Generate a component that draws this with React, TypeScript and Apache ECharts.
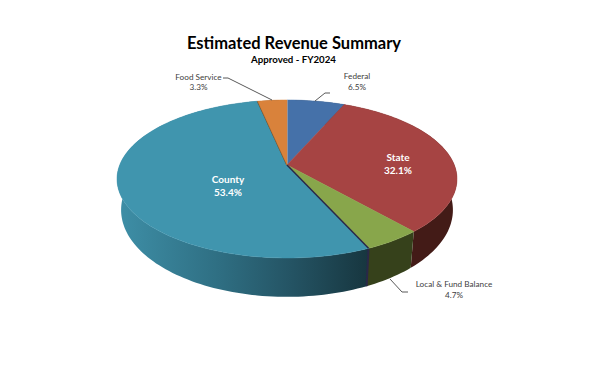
import React, { useEffect, useRef } from "react";
import * as echarts from "echarts";

const categories = ["Federal", "State", "Local & Fund Balance", "County", "Food Service"];
const shares = [6.5, 32.1, 4.7, 53.4, 3.3];
const titleText = "Estimated Revenue Summary";
const subtitleText = "Approved - FY2024";

const topColors = ["#4571a9", "#a64443", "#88a64b", "#4095ae", "#d9823b"];
const FONT = "Lato, 'Open Sans', sans-serif";

// Perspective projection of the pie disc
const CX = 287, CY = 165, K = 0.177, A = 167.3, B = 76.5;
const LOW_X = 0.976, LOW_Y0 = 194.6, LOW_Y = 1.1;
const total = shares.reduce((a, b) => a + b, 0);

const rim = (deg: number): [number, number] => {
  const t = (deg * Math.PI) / 180;
  const w = 1 + K * Math.cos(t);
  return [CX + (A * Math.sin(t)) / w, CY - (B * Math.cos(t)) / w];
};
const lowRim = (deg: number): [number, number] => {
  const [x, y] = rim(deg);
  return [CX + (x - CX) * LOW_X, LOW_Y0 + LOW_Y * (y - CY)];
};
const samples = (a: number, b: number) => {
  const n = Math.max(2, Math.ceil((b - a) / 1.5));
  const out: number[] = [];
  for (let i = 0; i <= n; i++) out.push(a + ((b - a) * i) / n);
  return out;
};

let running = 0;
const rows = shares.map((v) => {
  const start = (running / total) * 360;
  running += v;
  return [v, start, (running / total) * 360];
});

const sideFill = (i: number) => {
  if (i === 3) {
    return new echarts.graphic.LinearGradient(1, 0, 0, 0, [
      { offset: 0, color: "#17363f" },
      { offset: 0.3, color: "#245363" },
      { offset: 0.6, color: "#2f6f83" },
      { offset: 1, color: "#3e8fa7" },
    ]);
  }
  return ["#27405f", "#431b17", "#36411b", "#17363f", "#7d4a20"][i];
};

const sideItem = (params: any, api: any) => {
  const a = api.value(1), b = api.value(2);
  const angles = samples(a, b);
  const pts = [...angles.map(rim), ...angles.slice().reverse().map(lowRim)];
  const children: any[] = [
    { type: "polygon", shape: { points: pts }, style: { fill: sideFill(params.dataIndex), stroke: null } },
  ];
  if (params.dataIndex === 3) {
    const p = rim(a), q = lowRim(a);
    children.push({
      type: "line",
      shape: { x1: p[0], y1: p[1], x2: q[0], y2: q[1] },
      style: { stroke: "#2a2848", lineWidth: 2 },
    });
  }
  return { type: "group", children };
};

const topItem = (params: any, api: any) => {
  const a = api.value(1), b = api.value(2);
  const pts = [[CX, CY], ...samples(a, b).map(rim)];
  const color = topColors[params.dataIndex];
  const children: any[] = [
    { type: "polygon", shape: { points: pts }, style: { fill: color, stroke: color, lineWidth: 0.5 } },
  ];
  const edge = (deg: number, stroke: string, lineWidth: number) => {
    const p = rim(deg);
    children.push({
      type: "line",
      shape: { x1: CX, y1: CY, x2: p[0], y2: p[1] },
      style: { stroke, lineWidth },
    });
  };
  if (params.dataIndex === 3) {
    edge(a, "#2a2848", 1.5);
    edge(b, "#5f4a2e", 1.5);
  }
  if (params.dataIndex === 0) edge(a, "#b9c6d6", 1);
  return { type: "group", children };
};

const label = (i: number, x: number, y1: number, y2: number, bold: boolean) => {
  const style = {
    fontFamily: FONT,
    fontSize: bold ? 10 : 8.2,
    fontWeight: bold ? "bold" : "normal",
    fill: bold ? "#ffffff" : "#404040",
    align: "center",
    verticalAlign: "middle",
  };
  return [
    { type: "text", x, y: y1, style: { ...style, text: categories[i] }, z: 10 },
    { type: "text", x, y: y2, style: { ...style, text: `${shares[i].toFixed(1)}%` }, z: 10 },
  ];
};
const leader = (points: number[][]) => ({
  type: "polyline",
  shape: { points },
  style: { stroke: "#595959", lineWidth: 1, fill: null },
  z: 10,
});

export default function App() {
  const ref = useRef<HTMLDivElement>(null);
  useEffect(() => {
    const chart = echarts.init(ref.current!, undefined, { renderer: "svg", width: 600, height: 375 });
    chart.setOption({
      animation: false,
      backgroundColor: "#ffffff",
      series: [
        { type: "custom", coordinateSystem: "none", silent: true, z: 1, data: rows, renderItem: sideItem },
        { type: "custom", coordinateSystem: "none", silent: true, z: 2, data: rows, renderItem: topItem },
      ],
      graphic: [
        {
          type: "text", x: 294, y: 43, z: 10,
          style: { text: titleText, fontFamily: FONT, fontSize: 16.5, fontWeight: "bold", fill: "#000000", align: "center", verticalAlign: "middle" },
        },
        {
          type: "text", x: 293.5, y: 59, z: 10,
          style: { text: subtitleText, fontFamily: FONT, fontSize: 9.7, fontWeight: "bold", fill: "#000000", align: "center", verticalAlign: "middle" },
        },
        ...label(0, 357, 76, 87, false),
        ...label(1, 398, 157, 170, true),
        ...label(2, 454, 284, 295, false),
        ...label(3, 228, 179, 192, true),
        ...label(4, 198.5, 77, 87, false),
        leader([[223, 78], [228, 78], [272, 100]]),
        leader([[330, 93], [325, 93], [315, 101]]),
        leader([[390, 279], [402, 292], [408, 292]]),
      ],
    });
    return () => chart.dispose();
  }, []);
  return <div ref={ref} style={{ position: "fixed", left: 0, top: 0, width: 600, height: 375 }} />;
}
